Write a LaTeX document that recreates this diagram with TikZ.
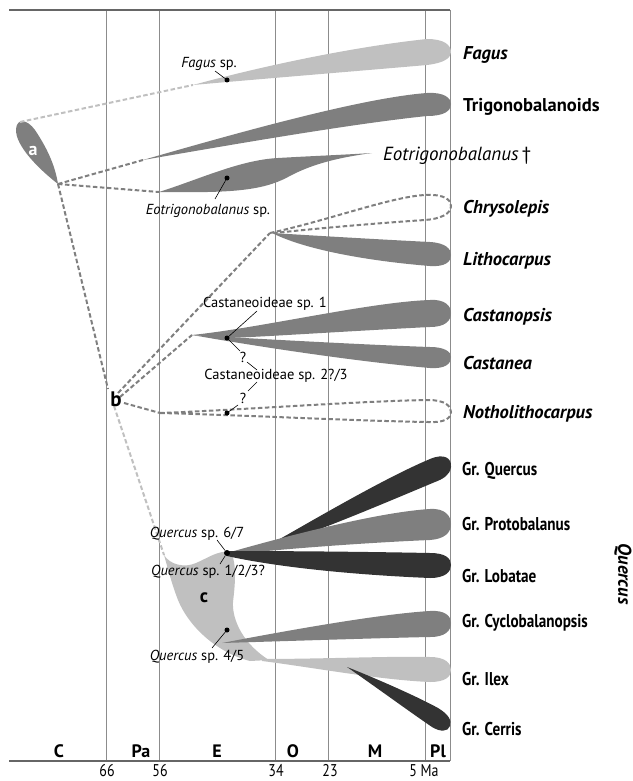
\documentclass[tikz,border=0pt]{standalone}
\usepackage{fontspec}
\setmainfont{PT Sans}
\definecolor{lg}{HTML}{C0C0C0}
\definecolor{mg}{HTML}{7F7F7F}
\definecolor{dg}{HTML}{333333}
\definecolor{gridc}{HTML}{8C8C8C}
\definecolor{framec}{HTML}{666666}
\newcommand{\cond}[1]{\scalebox{0.82}[1]{#1}}
\begin{document}
\begin{tikzpicture}[x=1pt,y=-1pt,
  gridline/.style={draw=gridc, line width=0.9pt},
  frameline/.style={draw=framec, line width=1.2pt},
  brdash/.style={draw=mg, line width=2pt, dash pattern=on 4.5pt off 2.5pt},
  lightdash/.style={draw=lg, line width=2pt, dash pattern=on 4.5pt off 2.5pt},
  lgfill/.style={fill=lg},
  mgfill/.style={fill=mg},
  dgfill/.style={fill=dg},
  taxon/.style={font=\fontsize{18.5}{20}\selectfont\bfseries\itshape, anchor=base west, inner sep=0pt},
  clade/.style={font=\fontsize{18.5}{20}\selectfont\bfseries, anchor=base west, inner sep=0pt},
  grp/.style={font=\fontsize{18.5}{20}\selectfont\bfseries, anchor=base west, inner sep=0pt},
  lbl/.style={font=\fontsize{14.5}{16}\selectfont, inner sep=0pt, anchor=base},
  period/.style={font=\fontsize{18}{20}\selectfont\bfseries, inner sep=0pt, anchor=base},
  age/.style={font=\fontsize{17}{19}\selectfont, inner sep=0pt, anchor=base},
  fdot/.style={circle, fill=black, inner sep=0pt, minimum size=5pt},
  leader/.style={draw=black, line width=0.6pt}
]
\useasboundingbox (0,0) rectangle (632,781);

% ---------- grid ----------
\coordinate (tl) at (9,10);
\coordinate (tr) at (450,10);
\coordinate (bl) at (9,761);
\coordinate (br) at (450,761);
\foreach \xx/\nm in {106/g66,159/g56,275/g34,328/g23,425/g5}{
  \coordinate (\nm t) at (\xx,10);
  \coordinate (\nm b) at (\xx,761);
  \draw[gridline] (\nm t) -- (\nm b);
}
\draw[gridline] (tr) -- (br);
\draw[frameline] (tl) -- (tr);
\draw[frameline] (bl) -- (br);

% ---------- junction coordinates ----------
\coordinate (aTop) at (20,122);
\coordinate (aBot) at (58,184);
\coordinate (fagTip) at (193,85);
\coordinate (triTip) at (143,160);
\coordinate (eotTip) at (159,192);
\coordinate (bIn) at (108,389);
\coordinate (bOut1) at (118,393);
\coordinate (bOut2) at (120,397);
\coordinate (bOut3) at (124,403);
\coordinate (bOut4) at (114,406);
\coordinate (chrTip) at (270,233);
\coordinate (casTip) at (192,335);
\coordinate (notTip) at (160,413);
\coordinate (cTop) at (164,555);

% ---------- shapes ----------
% a
\path[mgfill] (58,184) .. controls (40,170) and (15,146) .. (16,129) .. controls (17,118) and (27,119) .. (35,130) .. controls (47,148) and (55,165) .. (58,184) -- cycle;
% Fagus
\path[lgfill] (193,85) .. controls (260,79) and (370,70) .. (427,65) .. controls (444,63) and (451,58) .. (451,52) .. controls (451,45) and (444,39) .. (427,39) .. controls (360,46) and (270,64) .. (193,85) -- cycle;
% Trigonobalanoids
\path[mgfill] (143,160) .. controls (230,135) and (360,98) .. (427,93) .. controls (444,92) and (451,98) .. (451,104) .. controls (451,111) and (444,116) .. (427,116) .. controls (350,124) and (230,145) .. (143,160) -- cycle;
% Eotrigonobalanus
\path[mgfill] (159,192) .. controls (200,179) and (240,160) .. (278,158) .. controls (312,156) and (340,155) .. (372,153) .. controls (335,158) and (310,165) .. (288,177) .. controls (262,191) and (230,193) .. (159,192) -- cycle;
% Lithocarpus
\path[mgfill] (272,233) .. controls (320,236) and (390,240) .. (430,242) .. controls (446,243) and (451,249) .. (451,255) .. controls (451,262) and (445,267) .. (430,266) .. controls (380,262) and (310,252) .. (272,233) -- cycle;
% Castanopsis
\path[mgfill] (192,335) .. controls (260,328) and (370,302) .. (430,300) .. controls (445,299) and (451,306) .. (451,313) .. controls (451,321) and (445,327) .. (430,327) .. controls (350,331) and (260,337) .. (228,338) -- cycle;
% Castanea
\path[mgfill] (192,335) .. controls (260,339) and (370,345) .. (430,347) .. controls (445,347) and (451,352) .. (451,357) .. controls (451,364) and (445,369) .. (430,368) .. controls (360,362) and (260,347) .. (192,335) -- cycle;
% region c
\path[lgfill] (164,555) .. controls (170,565) and (185,568) .. (196,563) .. controls (208,558) and (218,550) .. (231,552) .. controls (237,565) and (235,585) .. (233,602) .. controls (232,622) and (245,645) .. (269,660) -- (250,661) .. controls (215,652) and (188,625) .. (178,600) .. controls (171,582) and (167,565) .. (164,555) -- cycle;
% Gr. Cyclobalanopsis
\path[mgfill] (222,643) .. controls (290,630) and (380,614) .. (430,611) .. controls (445,610) and (451,616) .. (451,623) .. controls (451,631) and (445,637) .. (430,637) .. controls (380,638) and (290,641) .. (222,643) -- cycle;
% Gr. Ilex
\path[lgfill] (262,659) .. controls (320,659) and (390,656) .. (430,657) .. controls (445,657) and (451,663) .. (451,670) .. controls (451,677) and (445,682) .. (430,682) .. controls (380,680) and (310,667) .. (262,661) -- cycle;
% Gr. Cerris
\path[dgfill] (347,667) .. controls (380,680) and (420,698) .. (438,708) .. controls (448,714) and (452,720) .. (450,726) .. controls (448,732) and (440,732) .. (432,727) .. controls (410,712) and (380,690) .. (347,667) -- cycle;
% Gr. Quercus
\path[dgfill] (262,549) .. controls (300,528) and (380,480) .. (430,459) .. controls (444,453) and (452,458) .. (451,467) .. controls (450,475) and (443,479) .. (435,482) .. controls (380,505) and (310,535) .. (262,549) -- cycle;
% Gr. Protobalanus
\path[mgfill] (227,553) .. controls (290,535) and (380,512) .. (430,509) .. controls (445,508) and (451,516) .. (451,524) .. controls (451,533) and (444,539) .. (430,540) .. controls (380,542) and (290,548) .. (227,555) -- cycle;
% Gr. Lobatae
\path[dgfill] (227,551) .. controls (300,551) and (380,552) .. (430,553) .. controls (445,553) and (451,558) .. (451,565) .. controls (451,572) and (445,578) .. (430,578) .. controls (380,576) and (290,570) .. (227,556) -- cycle;

% ---------- dashed connectors ----------
\draw[lightdash] (aTop) -- (fagTip);
\draw[brdash] (aBot) -- (triTip);
\draw[brdash] (aBot) -- (eotTip);
\draw[brdash] (aBot) -- (bIn);
\draw[brdash] (bOut1) -- (chrTip);
\draw[brdash] (bOut2) -- (casTip);
\draw[brdash] (bOut3) -- (notTip);
\draw[lightdash] (bOut4) -- (cTop);
% Chrysolepis loop
\draw[brdash] (chrTip) .. controls (330,220) and (390,197) .. (425,195) .. controls (445,194) and (451,200) .. (451,206) .. controls (451,214) and (440,219) .. (425,220) .. controls (380,223) and (320,228) .. (275,233);
% Notholithocarpus loop
\draw[brdash] (notTip) .. controls (240,410) and (360,401) .. (428,400) .. controls (445,400) and (451,406) .. (451,412) .. controls (451,418) and (445,423) .. (428,422) .. controls (360,421) and (240,415) .. (notTip);

% ---------- fossil dots and labels ----------
\node[fdot] (dFag) at (227,80) {};
\node[fdot] (dEot) at (227,178) {};
\node[fdot] (dCas) at (227,338) {};
\node[fdot] (dNot) at (227,413) {};
\node[fdot, minimum size=6pt] (dQ1) at (227,553) {};
\node[fdot] (dQ2) at (227,630) {};

\node[lbl] (lFag) at (209,68) {\itshape Fagus\/\upshape\ sp.};
\draw[leader] (215,71) -- (dFag);
\node[lbl] (lEot) at (208,214) {\itshape Eotrigonobalanus\/\upshape\ sp.};
\draw[leader] (215,199) -- (dEot);
\node[lbl] (lCas1) at (265,307) {Castaneoideae sp. 1};
\draw[leader] (257,311) -- (dCas);
\node[lbl] (q1) at (243,362) {?};
\draw[leader] (dCas) -- (240,351);
\draw[leader] (247,362) -- (257,370);
\node[lbl] (lCas2) at (276,379) {Castaneoideae sp. 2?/3};
\node[lbl] (q2) at (243,403) {?};
\draw[leader] (257,382) -- (248,391);
\draw[leader] (238,405) -- (dNot);
\node[lbl] (lQ67) at (197,537) {\itshape Quercus\/\upshape\ sp. 6/7};
\draw[leader] (217,540) -- (dQ1);
\node[lbl] (lQ123) at (208,575) {\itshape Quercus\/\upshape\ sp. 1/2/3?};
\draw[leader] (220,564) -- (dQ1);
\node[lbl] (lQ45) at (197,660) {\itshape Quercus\/\upshape\ sp. 4/5};
\draw[leader] (212,648) -- (dQ2);

% ---------- node letters ----------
\node[font=\fontsize{18}{20}\selectfont\bfseries, text=white, inner sep=0pt] (la) at (33,151) {a};
\node[font=\fontsize{21}{22}\selectfont\bfseries, inner sep=0pt] (lb) at (116,399) {b};
\node[font=\fontsize{19}{20}\selectfont\bfseries, inner sep=0pt] (lc) at (204,598) {c};

% ---------- taxon names ----------
\node[taxon] (tFag) at (463,60) {Fagus};
\node[clade] (tTri) at (463,112) {Trigonobalanoids};
\node[font=\fontsize{19}{20}\selectfont\itshape, anchor=base west, inner sep=0pt] (tEot) at (383,160) {Eotrigonobalanus\,\upshape†};
\node[taxon] (tChr) at (463,213.5) {Chrysolepis};
\node[taxon] (tLit) at (463,265.5) {Lithocarpus};
\node[taxon] (tCap) at (463,321.5) {Castanopsis};
\node[taxon] (tCas) at (463,369.5) {Castanea};
\node[taxon] (tNot) at (463,418.5) {Notholithocarpus};
\node[grp] (gQ) at (462,475) {\cond{Gr. Quercus}};
\node[grp] (gP) at (462,530) {\cond{Gr. Protobalanus}};
\node[grp] (gL) at (462,582) {\cond{Gr. Lobatae}};
\node[grp] (gC) at (462,627) {\cond{Gr. Cyclobalanopsis}};
\node[grp] (gI) at (462,685) {\cond{Gr. Ilex}};
\node[grp] (gCe) at (462,735) {\cond{Gr. Cerris}};
\node[font=\fontsize{18.5}{20}\selectfont\bfseries\itshape, inner sep=0pt, rotate=-90] (tQuer) at (623,574) {Quercus};

% ---------- time scale ----------
\node[period] (pC) at (59,757) {C};
\node[period] (pPa) at (141,757) {Pa};
\node[period] (pE) at (217,757) {E};
\node[period] (pO) at (293,757) {O};
\node[period] (pM) at (375,757) {M};
\node[period] (pPl) at (438,757) {Pl};
\node[age] (a66) at (107,776) {\cond{66}};
\node[age] (a56) at (160,776) {\cond{56}};
\node[age] (a34) at (276,776) {\cond{34}};
\node[age] (a23) at (330,776) {\cond{23}};
\node[age] (a5) at (424,776) {\cond{5 Ma}};
\end{tikzpicture}
\end{document}
